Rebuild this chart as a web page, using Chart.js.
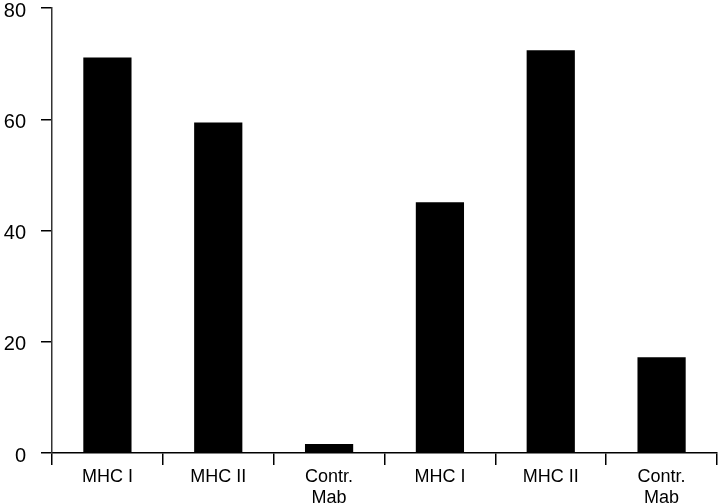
<!DOCTYPE html>
<html>
<head>
<meta charset="utf-8">
<script src="https://cdn.jsdelivr.net/npm/chart.js@4/dist/chart.umd.min.js"></script>
<style>
  html, body { margin: 0; padding: 0; background: #fff; }
  #wrap { width: 720px; height: 504px; }
</style>
</head>
<body>
<div id="wrap"><canvas id="chart" width="720" height="504"></canvas></div>
<script>
// categories along the bottom (two groups of three)
const categories = [
  "MHC I", "MHC II", ["Contr.", "Mab"],
  "MHC I", "MHC II", ["Contr.", "Mab"]
];
// bar heights
const values = [71.1, 59.4, 1.6, 45.1, 72.4, 17.2];
// y tick range
const yMin = 0;
const yMax = 80;
const yStep = 20;

const ctx = document.getElementById("chart");

const chart = new Chart(ctx, {
  type: "bar",
  data: {
    labels: categories,
    datasets: [{
      data: values,
      backgroundColor: "#000",
      borderWidth: 0,
      barPercentage: 0.87,
      categoryPercentage: 0.5
    }]
  },
  options: {
    responsive: false,
    animation: false,
    layout: { padding: { left: 0, right: 3, top: 8, bottom: 0 } },
    plugins: {
      legend: { display: false },
      tooltip: { enabled: false }
    },
    scales: {
      x: {
        offset: true,
        border: { display: true, color: "#000", width: 1.5 },
        grid: {
          display: true,
          offset: true,
          drawOnChartArea: false,
          drawTicks: true,
          tickLength: 12,
          color: "#000",
          lineWidth: 1.5
        },
        ticks: {
          color: "#000",
          padding: 1,
          maxRotation: 0,
          autoSkip: false,
          font: { family: "Liberation Sans, Arial, sans-serif", size: 18 }
        },
        afterFit: (scale) => {
          scale.height = 51;
          scale.paddingLeft = 0;
          scale.paddingRight = 0;
        }
      },
      y: {
        min: yMin,
        max: yMax,
        border: { display: true, color: "#333", width: 1.5 },
        grid: {
          display: true,
          drawOnChartArea: false,
          drawTicks: true,
          tickLength: 11,
          color: "#000",
          lineWidth: 1.5
        },
        ticks: {
          stepSize: yStep,
          color: "#000",
          padding: 15,
          labelOffset: 3,
          font: { family: "Liberation Sans, Arial, sans-serif", size: 20 }
        },
        afterFit: (scale) => {
          scale.width = 52;
          scale.paddingTop = 0;
          scale.paddingBottom = 0;
        }
      }
    }
  }
});
</script>
</body>
</html>
